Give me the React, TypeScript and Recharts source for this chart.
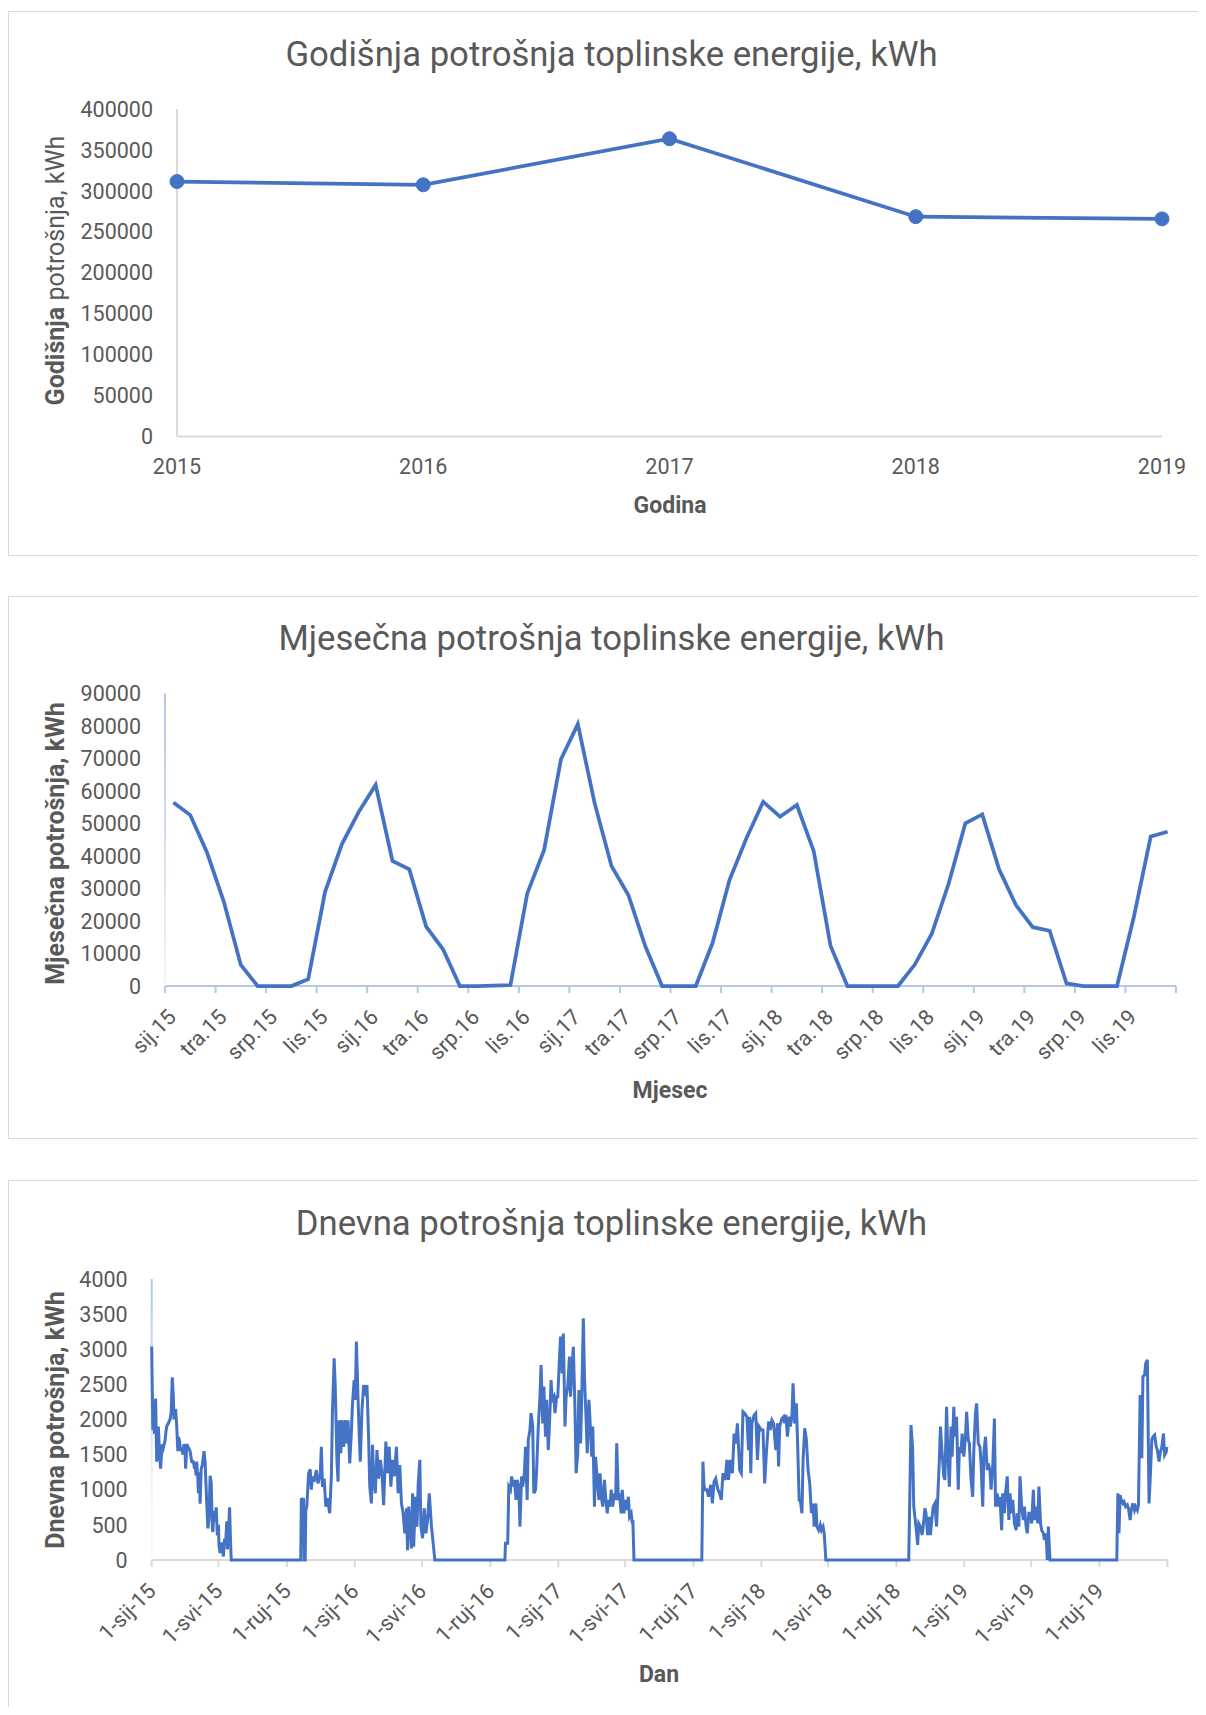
import React from 'react';
import { LineChart, Line, XAxis, YAxis } from 'recharts';

const FONT = 'Roboto, "Noto Sans", sans-serif';
const TEXT = '#595959';
const BLUE = '#4472C4';
const GREY = '#d9d9d9';
const LIGHTBLUE = '#b4c7e7';
const TICK_FS = 21.5;

// ---------- yearly ----------
const years = ['2015', '2016', '2017', '2018', '2019'];
const yearlyKwh = [311400, 307400, 363700, 268500, 265800];
const yearlyTicks = [0, 50000, 100000, 150000, 200000, 250000, 300000, 350000, 400000];

// ---------- monthly ----------
const monthNames = ['sij', 'velj', 'ožu', 'tra', 'svi', 'lip', 'srp', 'kol', 'ruj', 'lis', 'stu', 'pro'];
const monthYears = ['15', '16', '17', '18', '19'];
const monthly2015 = [56500, 52600, 41000, 25800, 6500, 0, 0, 0, 2100, 29000, 43700, 53600];
const monthly2016 = [61900, 38500, 35900, 18300, 11300, 0, 0, 100, 300, 28500, 41900, 69800];
const monthly2017 = [80600, 56200, 36900, 28000, 12300, 0, 0, 0, 13300, 32600, 45400, 56700];
const monthly2018 = [52100, 55700, 41500, 12300, 0, 0, 0, 0, 6600, 16000, 31400, 50100];
const monthly2019 = [52800, 35900, 24900, 18100, 17000, 800, 0, 0, 0, 21300, 46000, 47500];
const monthlyTicks = [0, 10000, 20000, 30000, 40000, 50000, 60000, 70000, 80000, 90000];

// ---------- daily (day offset from 1 Jan 2015, kWh) ----------
const season15 = [[0,3040],[2,1850],[3,2000],[5,1800],[7,2300],[9,1400],[11,1700],[12,1900],[14,1500],[16,1300],[18,1550],[19,1650],[21,1600],[24,1700],[26,1850],[27,1900],[30,1950],[33,2000],[35,2100],[37,2600],[39,2300],[40,2000],[43,2150],[45,1900],[47,1550],[48,1750],[50,1700],[52,1550],[54,1600],[56,1500],[58,1650],[60,1550],[61,1300],[63,1650],[66,1600],[69,1550],[72,1400],[75,1400],[77,1300],[78,1350],[80,1200],[81,1400],[83,1150],[84,950],[86,1250],[87,800],[89,1300],[91,1350],[94,1550],[96,1400],[98,1000],[99,800],[101,450],[103,600],[105,1200],[107,1100],[109,450],[110,400],[112,700],[114,550],[116,750],[118,350],[120,500],[121,200],[123,100],[125,250],[127,150],[129,50],[131,300],[133,250],[135,550],[136,150],[138,350],[140,750],[142,200],[143,0]];
const season1516 = [[268,0],[269,880],[271,850],[273,880],[274,0],[276,0],[277,700],[279,780],[282,1230],[285,1290],[287,1000],[289,1190],[292,1115],[296,1280],[299,1090],[303,1210],[305,1610],[307,1040],[310,1160],[313,760],[316,880],[320,665],[323,1190],[325,2135],[328,2870],[330,2470],[333,1425],[335,1115],[337,1990],[340,1520],[342,1990],[345,1610],[348,1990],[351,1660],[353,1990],[356,1375],[359,1825],[361,2230],[364,2560],[366,2280],[368,3110],[371,2280],[373,1800],[375,1400],[378,2135],[381,2490],[384,2400],[387,2490],[390,1730],[392,1045],[395,805],[397,1640],[399,1160],[402,950],[405,1565],[408,1160],[411,1425],[414,1235],[417,780],[421,1685],[424,1235],[427,1610],[430,1045],[433,1425],[436,1190],[440,1610],[443,950],[446,1350],[449,805],[452,665],[455,380],[458,735],[460,140],[462,760],[464,570],[467,165],[469,950],[471,190],[474,900],[477,475],[479,1070],[482,1425],[484,475],[487,310],[490,735],[493,380],[496,570],[499,950],[503,475],[506,240],[509,0]];
const season1617 = [[635,0],[636,240],[640,240],[642,1045],[645,1000],[647,1190],[650,1045],[652,1140],[655,855],[657,1140],[660,1045],[662,475],[665,1190],[667,1045],[670,1235],[672,1610],[675,855],[677,1710],[680,1850],[682,2090],[685,1900],[687,950],[690,1000],[692,1280],[695,1900],[698,2325],[700,2775],[703,1945],[705,2470],[708,1755],[710,2280],[713,1565],[715,1900],[718,2560],[720,2280],[723,2325],[725,2090],[728,2325],[730,2325],[733,2850],[735,3180],[738,2655],[740,3225],[743,1900],[745,2325],[748,2470],[751,2895],[753,2325],[756,2800],[758,3035],[761,2135],[763,1235],[766,1520],[768,2420],[771,1660],[773,2280],[776,3440],[778,2610],[781,1990],[783,1520],[786,2280],[788,1990],[791,1470],[793,1900],[796,760],[798,1470],[801,1140],[804,855],[806,1235],[809,855],[811,760],[814,1140],[816,900],[819,665],[821,855],[824,760],[826,1000],[829,760],[831,950],[834,855],[836,1660],[839,855],[841,950],[844,665],[846,1000],[849,665],[851,855],[854,710],[857,900],[859,617],[862,665],[864,520],[865,570],[867,0]];
const season1718 = [[989,0],[991,1400],[993,1045],[995,1000],[998,1000],[1001,900],[1005,1070],[1008,805],[1011,1115],[1014,1160],[1018,1000],[1021,950],[1024,855],[1027,1235],[1031,1140],[1034,1425],[1037,1140],[1040,1425],[1044,1235],[1047,1800],[1050,1660],[1053,1945],[1057,1280],[1060,1235],[1063,2110],[1066,2090],[1070,2040],[1073,1565],[1075,2040],[1077,1235],[1079,1945],[1083,2065],[1086,2090],[1089,1425],[1092,1900],[1096,1850],[1099,1850],[1102,1090],[1105,1520],[1109,1970],[1112,1850],[1115,1990],[1118,1945],[1122,1565],[1125,1945],[1127,1330],[1129,1900],[1133,2015],[1136,2040],[1138,1945],[1140,2065],[1143,1755],[1146,2040],[1148,1900],[1151,2040],[1153,2515],[1156,1945],[1159,2230],[1161,1710],[1164,855],[1166,855],[1169,665],[1171,1425],[1174,1875],[1177,1710],[1180,1280],[1183,1090],[1186,665],[1189,805],[1191,475],[1194,805],[1196,475],[1199,425],[1202,500],[1204,425],[1207,475],[1209,380],[1212,0]];
const season1819 = [[1361,0],[1365,1920],[1368,1590],[1370,760],[1374,475],[1377,215],[1379,520],[1382,475],[1385,355],[1387,475],[1390,735],[1392,665],[1395,355],[1398,615],[1400,355],[1403,615],[1405,760],[1408,805],[1411,475],[1413,855],[1416,1425],[1418,1900],[1421,1520],[1424,1190],[1426,1140],[1429,2180],[1431,1610],[1434,1045],[1437,1900],[1439,1470],[1442,2180],[1444,1755],[1447,2040],[1450,1000],[1452,1610],[1455,1520],[1457,1800],[1460,1470],[1463,1755],[1465,2110],[1468,1710],[1470,1660],[1473,1140],[1476,900],[1478,1565],[1481,2090],[1483,2230],[1486,1660],[1489,1610],[1491,1375],[1494,760],[1496,1520],[1499,1755],[1502,1280],[1504,1375],[1507,1280],[1509,1000],[1512,1330],[1515,2015],[1517,760],[1520,950],[1522,760],[1525,900],[1528,425],[1530,950],[1533,665],[1535,950],[1538,1190],[1541,570],[1543,950],[1546,665],[1548,855],[1551,520],[1554,425],[1556,665],[1559,475],[1561,1190],[1564,760],[1567,570],[1569,760],[1572,475],[1574,380],[1577,665],[1580,665],[1582,520],[1585,1000],[1587,570],[1590,760],[1593,520],[1595,1045],[1598,520],[1600,425],[1603,380],[1605,285],[1608,380],[1610,0],[1612,475],[1615,0]];
const season19 = [[1735,0],[1737,950],[1739,380],[1741,925],[1743,855],[1746,805],[1748,830],[1751,760],[1754,785],[1756,735],[1759,570],[1761,710],[1764,805],[1767,710],[1769,760],[1772,710],[1774,785],[1777,2350],[1780,1450],[1782,2610],[1785,2635],[1787,2800],[1790,2850],[1793,805],[1795,1140],[1798,1710],[1800,1755],[1803,1780],[1806,1610],[1808,1565],[1811,1400],[1813,1520],[1816,1610],[1819,1800],[1821,1495],[1824,1540],[1825,1610]];
const dailyTickDays = [0, 120, 243, 365, 486, 609, 731, 851, 974, 1096, 1216, 1339, 1461, 1581, 1704, 1826];
const dailyTickLabels = ['1-sij-15', '1-svi-15', '1-ruj-15', '1-sij-16', '1-svi-16', '1-ruj-16', '1-sij-17', '1-svi-17', '1-ruj-17', '1-sij-18', '1-svi-18', '1-ruj-18', '1-sij-19', '1-svi-19', '1-ruj-19', ''];
const dailyYTicks = [0, 500, 1000, 1500, 2000, 2500, 3000, 3500, 4000];

// ---------- tables ----------
const yearlyData = years.map((y, i) => ({ year: y, kwh: yearlyKwh[i] }));
const monthlyValues = [...monthly2015, ...monthly2016, ...monthly2017, ...monthly2018, ...monthly2019];
const monthLabels = monthYears.flatMap((yy) => monthNames.map((m) => `${m}.${yy}`));
const monthlyData = monthlyValues.map((v, i) => ({ idx: i, month: monthLabels[i], kwh: v }));
const monthTickValues = [...monthLabels.map((_, i) => i - 0.5).filter((_, i) => i % 3 === 0), monthLabels.length - 0.5];
const dailyData = [...season15, ...season1516, ...season1617, ...season1718, ...season1819, ...season19].map(([d, v]) => ({ day: d, kwh: v }));

function RotTick(props: any) {
  const { x, y, payload, labelFor, dx } = props;
  const label = labelFor(payload.value);
  if (!label) return <g />;
  const ax = x + dx;
  const ay = y + 20;
  return (
    <text x={ax} y={ay} dy="0.355em" textAnchor="end" fill={TEXT} fontSize={TICK_FS} transform={`rotate(-45 ${ax} ${ay})`}>
      {label}
    </text>
  );
}

function Box({ top, height, children }: { top: number; height: number; children: React.ReactNode }) {
  return (
    <div style={{ position: 'absolute', left: 0, top, width: 1199, height, border: `1px solid ${GREY}`, boxSizing: 'border-box', background: '#fff' }}>
      <div style={{ position: 'absolute', left: -1, top: -1, width: 1199, height }}>{children}</div>
    </div>
  );
}

function Overlay({ height, title, titleY, yTitle, yTitleY, xTitle, xTitleX, xTitleY }: any) {
  return (
    <svg width={1199} height={height} style={{ position: 'absolute', left: 0, top: 0, pointerEvents: 'none' }}>
      <text x={603.5} y={titleY} textAnchor="middle" fill={TEXT} fontSize={34.7}>{title}</text>
      <text transform={`translate(55.5 ${yTitleY}) rotate(-90)`} textAnchor="middle" fill={TEXT} fontSize={25}>{yTitle}</text>
      <text x={xTitleX} y={xTitleY} textAnchor="middle" fill={TEXT} fontSize={23} fontWeight="bold">{xTitle}</text>
    </svg>
  );
}

export default function App() {
  return (
    <div style={{ position: 'relative', width: 1198, height: 1699, overflow: 'hidden', fontFamily: FONT }}>
      <svg width={0} height={0} style={{ position: 'absolute' }}>
        <defs>
          <linearGradient id="yGrad2" gradientUnits="userSpaceOnUse" x1="0" y1="97" x2="0" y2="391">
            <stop offset="0" stopColor={LIGHTBLUE} />
            <stop offset="1" stopColor="#f3f6fb" />
          </linearGradient>
          <linearGradient id="yGrad3" gradientUnits="userSpaceOnUse" x1="0" y1="99" x2="0" y2="380">
            <stop offset="0" stopColor={LIGHTBLUE} />
            <stop offset="0.8" stopColor="#f3f6fb" />
            <stop offset="1" stopColor="#f6f8fc" />
          </linearGradient>
        </defs>
      </svg>

      {/* Chart 1 */}
      <Box top={3} height={545}>
        <LineChart width={1199} height={545} data={yearlyData} margin={{ top: 98, right: 45, bottom: 0, left: 0 }}>
          <XAxis dataKey="year" height={119.5} axisLine={{ stroke: GREY, strokeWidth: 2 }} tickLine={false} tickSize={0} tickMargin={22} tick={{ fill: TEXT, fontSize: TICK_FS }} interval={0} />
          <YAxis width={169} type="number" domain={[0, 400000]} ticks={yearlyTicks} interval={0} axisLine={{ stroke: GREY, strokeWidth: 2 }} tickLine={false} tickSize={0} tickMargin={24} tick={{ fill: TEXT, fontSize: TICK_FS }} />
          <Line type="linear" dataKey="kwh" stroke={BLUE} strokeWidth={3.75} dot={{ r: 7, fill: BLUE, stroke: BLUE, strokeWidth: 1 }} activeDot={false} isAnimationActive={false} zIndex={600} />
        </LineChart>
        <Overlay height={545} title="Godišnja potrošnja toplinske energije, kWh" titleY={54.5}
          yTitle={<><tspan fontWeight="bold">Godišnja</tspan>{' potrošnja, kWh'}</>} yTitleY={259.5}
          xTitle="Godina" xTitleX={662} xTitleY={502} />
      </Box>

      {/* Chart 2 */}
      <Box top={588} height={543}>
        <LineChart width={1199} height={543} data={monthlyData} margin={{ top: 97.6, right: 31, bottom: 0, left: 0 }}>
          <XAxis dataKey="idx" type="number" domain={[-0.5, monthLabels.length - 0.5]} ticks={monthTickValues} interval={0} height={153}
            axisLine={{ stroke: LIGHTBLUE, strokeWidth: 2 }} tickLine={{ stroke: LIGHTBLUE, strokeWidth: 2 }} tickSize={7} tickMargin={0}
            tick={(p: any) => <RotTick {...p} dx={7} labelFor={(v: number) => monthLabels[v + 0.5]} />} />
          <YAxis width={157} type="number" domain={[0, 90000]} ticks={monthlyTicks} interval={0} axisLine={{ stroke: 'url(#yGrad2)', strokeWidth: 2 }} tickLine={false} tickSize={0} tickMargin={24} tick={{ fill: TEXT, fontSize: TICK_FS }} />
          <Line type="linear" dataKey="kwh" stroke={BLUE} strokeWidth={3.75} dot={false} activeDot={false} isAnimationActive={false} zIndex={600} />
        </LineChart>
        <Overlay height={543} title="Mjesečna potrošnja toplinske energije, kWh" titleY={54}
          yTitle={<tspan fontWeight="bold">Mjesečna potrošnja, kWh</tspan>} yTitleY={247.5}
          xTitle="Mjesec" xTitleX={662} xTitleY={502.2} />
      </Box>

      {/* Chart 3 */}
      <Box top={1172} height={543}>
        <LineChart width={1199} height={543} data={dailyData} margin={{ top: 99, right: 39.6, bottom: 0, left: 0 }}>
          <XAxis dataKey="day" type="number" domain={[0, 1826]} ticks={dailyTickDays} interval={0} height={163}
            axisLine={{ stroke: GREY, strokeWidth: 2 }} tickLine={{ stroke: GREY, strokeWidth: 2 }} tickSize={7} tickMargin={0}
            tick={(p: any) => <RotTick {...p} dx={0} labelFor={(v: number) => dailyTickLabels[dailyTickDays.indexOf(v)]} />} />
          <YAxis width={143.7} type="number" domain={[0, 4000]} ticks={dailyYTicks} interval={0} axisLine={{ stroke: 'url(#yGrad3)', strokeWidth: 2 }} tickLine={false} tickSize={0} tickMargin={24} tick={{ fill: TEXT, fontSize: TICK_FS }} />
          <Line type="linear" dataKey="kwh" stroke={BLUE} strokeWidth={3} dot={false} activeDot={false} isAnimationActive={false} zIndex={600} />
        </LineChart>
        <Overlay height={543} title="Dnevna potrošnja toplinske energije, kWh" titleY={54.5}
          yTitle={<tspan fontWeight="bold">Dnevna potrošnja, kWh</tspan>} yTitleY={240}
          xTitle="Dan" xTitleX={651} xTitleY={502} />
      </Box>
    </div>
  );
}
